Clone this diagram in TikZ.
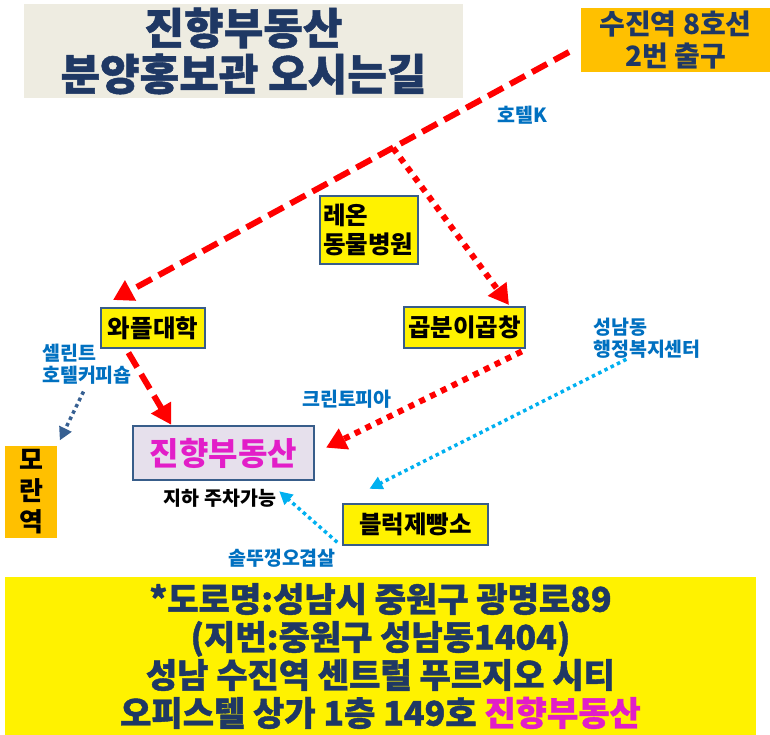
\documentclass[tikz,border=0pt]{standalone}
\usepackage{fontspec}
\setmainfont{Noto Sans CJK KR}
\newfontfamily\heavy{Noto Sans CJK KR}[FakeBold=1.2]
\usepackage{tikz}
\usetikzlibrary{arrows.meta,calc}
\definecolor{navy}{RGB}{31,56,100}
\definecolor{ttlbg}{RGB}{238,236,225}
\definecolor{exitorange}{RGB}{255,192,0}
\definecolor{boxline}{RGB}{56,93,138}
\definecolor{lav}{RGB}{230,224,236}
\definecolor{pinkish}{RGB}{226,30,200}
\definecolor{lblue}{RGB}{0,112,192}
\definecolor{skyblue}{RGB}{0,176,240}
\definecolor{darkdot}{RGB}{55,96,146}

\begin{document}
\begin{tikzpicture}[x=1pt,y=-1pt,
  box/.style={draw=boxline,line width=2.5pt,fill=yellow,font=\fontsize{24.5}{29}\selectfont\bfseries,inner sep=2pt},
  lbl/.style={text=lblue,font=\fontsize{19.5}{22}\selectfont\bfseries,inner sep=0pt},
  road/.style={red,line width=6pt,dash pattern=on 17pt off 8pt,-{Triangle[length=20pt,width=22pt]}},
  alley/.style={red,line width=6pt,dash pattern=on 6pt off 6pt,-{Triangle[length=20pt,width=22pt]}},
  walk/.style={line width=3.5pt,dash pattern=on 3.5pt off 3.5pt,-{Triangle[length=13pt,width=13pt]}}]
\useasboundingbox (0,0) rectangle (770,735);
\node[fill=ttlbg,minimum width=439pt,minimum height=92pt,text=navy,align=center,font=\fontsize{43}{46}\selectfont\heavy\bfseries] (title) at (243.5,51) {진향부동산\\분양홍보관 오시는길};
\node[fill=exitorange,minimum width=189pt,minimum height=64pt,text=navy,align=center,font=\fontsize{28}{32}\selectfont\bfseries] (exit) at (675.5,40) {수진역 8호선\\2번 출구};
\node[box,minimum width=98pt,minimum height=68pt,align=left,text width=92pt] (leon) at (369,230) {레온\\동물병원};
\node[box,minimum width=104pt,minimum height=40pt] (wafl) at (153,328) {와플대학};
\node[box,minimum width=121pt,minimum height=41pt] (gop) at (464.5,327.5) {곱분이곱창};
\node[box,minimum width=145pt,minimum height=41pt] (bread) at (415.5,524.5) {블럭제빵소};
\node[draw=boxline,line width=2.5pt,fill=lav,minimum width=181pt,minimum height=54pt,text=pinkish,font=\fontsize{32}{34}\selectfont\bfseries] (main) at (223.5,453) {진향부동산};
\node[fill=exitorange,minimum width=52pt,minimum height=92pt,align=center,font=\fontsize{26}{31}\selectfont\bfseries] (moran) at (31,492) {모\\란\\역};
\node[font=\fontsize{19.5}{20}\selectfont\bfseries,inner sep=0pt] (park) at (220,498) {지하 주차가능};
\node[lbl] (hotel) at (522,115) {호텔K};
\node[lbl,align=left] (cel) at (87,364) {셀린트\\호텔커피숍};
\node[lbl] (clean) at (347,399) {크린토피아};
\node[lbl,align=left] (sn) at (647,338) {성남동\\행정복지센터};
\node[lbl] (sot) at (282,558) {솥뚜껑오겹살};
\node[fill=yellow,minimum width=751pt,minimum height=158pt,text=navy,align=center,font=\fontsize{34}{38}\selectfont\heavy\bfseries] (addr) at (380.5,656) {*도로명:성남시 중원구 광명로89\\(지번:중원구 성남동1404)\\성남 수진역 센트럴 푸르지오 시티\\오피스텔 상가 1층 149호 {\color{pinkish}진향부동산}};
\coordinate (start) at (569,52);
\coordinate (bend) at (393,148);
\coordinate (tipW) at (113,300);
\coordinate (tipG) at (509,305);
\draw[road] (start) -- (tipW);
\draw[alley] (bend) -- (tipG);
\draw[road,shorten <=4pt] ($(wafl.south)!0.5!(wafl.south west)$) -- ($(main.north)!0.57!(main.north west)$);
\draw[alley,shorten <=5pt,shorten >=12pt] (gop.south east) -- (main.east);
\draw[walk,skyblue,shorten <=2pt,shorten >=31pt] ($(sn.south)!0.35!(sn.south west)$) -- (bread.north west);
\draw[walk,skyblue,shorten <=6pt,shorten >=4pt] (bread.south west) -- (park.north east);
\draw[walk,darkdot,shorten <=8pt,shorten >=6pt] (cel.south) -- (moran.north east);
\end{tikzpicture}
\end{document}
